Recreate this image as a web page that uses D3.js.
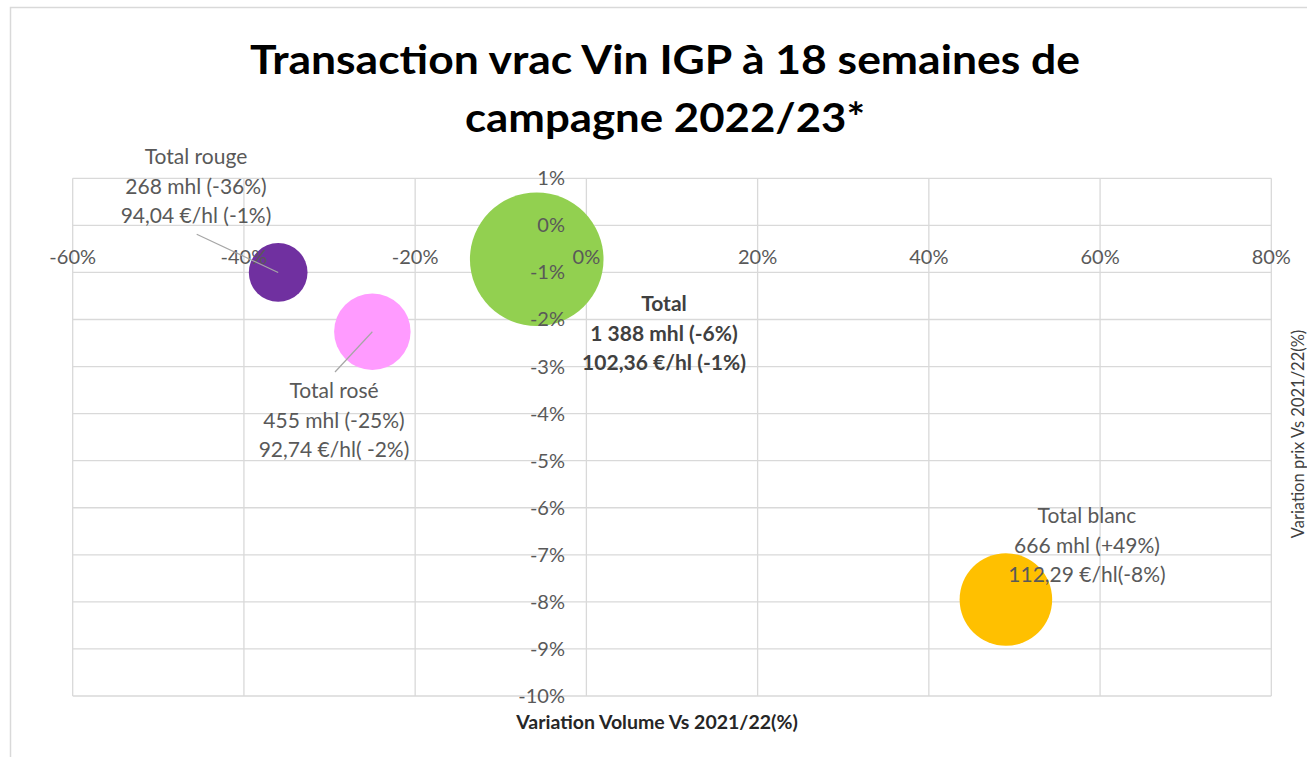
<!DOCTYPE html>
<html><head><meta charset="utf-8">
<script src="https://cdn.jsdelivr.net/npm/d3@7"></script>
<style>body{margin:0;background:#fff;} svg{display:block;}</style>
</head><body>
<svg id="chart" width="1307" height="757"></svg>
<script>
// ---- data ----
const series = ["Total rouge", "Total rosé", "Total", "Total blanc"];
const volumeVar = [-36, -25, -5.8, 49];          // x: variation volume (%)
const priceVar = [-1.0, -2.26, -0.72, -7.95];     // y: variation prix (%)
const volumes = [268, 455, 1388, 666];            // bubble size (mhl)
const colors = ["#7030A0", "#FF9BFF", "#92D050", "#FFC000"];
const labelLines = [
  ["Total rouge", "268 mhl (-36%)", "94,04 €/hl (-1%)"],
  ["Total rosé", "455 mhl (-25%)", "92,74 €/hl( -2%)"],
  ["Total", "1 388 mhl (-6%)", "102,36 €/hl (-1%)"],
  ["Total blanc", "666 mhl (+49%)", "112,29 €/hl(-8%)"]
];
const xTicks = [-60, -40, -20, 0, 20, 40, 60, 80];
const yTicks = [1, 0, -1, -2, -3, -4, -5, -6, -7, -8, -9, -10];
const titleLines = ["Transaction vrac Vin IGP à 18 semaines de", "campagne 2022/23*"];
const xTitle = "Variation Volume Vs 2021/22(%)";
const yTitle = "Variation prix Vs 2021/22(%)";

// ---- layout ----
const svg = d3.select("#chart");
const FONT = "Lato, 'Open Sans', sans-serif";
const x = d3.scaleLinear().domain([-60, 80]).range([72.7, 1271.3]);
const y = d3.scaleLinear().domain([-10, 1]).range([696, 178.3]);
const r = d3.scaleSqrt().domain([0, 1388]).range([0, 66.8]);

// outer border
svg.append("rect").attr("x", 10.5).attr("y", 7.5).attr("width", 1320).attr("height", 770)
  .attr("fill", "none").attr("stroke", "#D9D9D9").attr("stroke-width", 1.5);

// title
svg.append("g").selectAll("text").data(titleLines).join("text")
  .attr("x", 665).attr("y", (d, i) => 74 + i * 58)
  .attr("text-anchor", "middle").attr("font-family", FONT).attr("font-weight", "bold")
  .attr("font-size", 40).attr("fill", "#000")
  .attr("textLength", (d, i) => i === 0 ? 830 : 400).attr("lengthAdjust", "spacingAndGlyphs")
  .text(d => d);

// gridlines
const grid = svg.append("g").attr("stroke", "#D9D9D9").attr("stroke-width", 1.3);
grid.selectAll("line.v").data(xTicks).join("line").attr("class", "v")
  .attr("x1", d => x(d)).attr("x2", d => x(d)).attr("y1", y(1)).attr("y2", y(-10));
grid.selectAll("line.h").data(yTicks).join("line").attr("class", "h")
  .attr("y1", d => y(d)).attr("y2", d => y(d)).attr("x1", x(-60)).attr("x2", x(80));

const idx = d3.range(series.length);

// bubbles: draw largest first
const order = idx.slice().sort((a, b) => volumes[b] - volumes[a]);
svg.append("g").selectAll("circle").data(order).join("circle")
  .attr("cx", i => x(volumeVar[i])).attr("cy", i => y(priceVar[i])).attr("r", i => r(volumes[i]))
  .attr("fill", i => colors[i]);

// axis tick labels
const fmt = d => d + "%";
svg.append("g").selectAll("text").data(xTicks).join("text")
  .attr("x", d => x(d)).attr("y", 264).attr("text-anchor", "middle")
  .attr("font-family", FONT).attr("font-size", 20).attr("fill", "#595959").text(fmt);
svg.append("g").selectAll("text").data(yTicks).join("text")
  .attr("x", 565).attr("y", d => y(d) + 7).attr("text-anchor", "end")
  .attr("font-family", FONT).attr("font-size", 20).attr("fill", "#595959").text(fmt);

// axis titles
svg.append("text").attr("x", 657).attr("y", 729).attr("text-anchor", "middle")
  .attr("font-family", FONT).attr("font-weight", "bold").attr("font-size", 19.5).attr("fill", "#262626")
  .text(xTitle);
svg.append("text").attr("transform", "translate(1304,434) rotate(-90)").attr("text-anchor", "middle")
  .attr("font-family", FONT).attr("font-size", 16.5).attr("fill", "#404040")
  .text(yTitle);

// data label positions (label anchor centre x, first baseline y)
const labelPos = [[196, 164], [334, 398], [664, 311], [1087, 523]];
const leaders = [[196.7, 234.3], [335, 372], null, null];

svg.append("g").attr("stroke", "#A6A6A6").attr("stroke-width", 1.2).selectAll("line")
  .data(idx.filter(i => leaders[i])).join("line")
  .attr("x1", i => leaders[i][0]).attr("y1", i => leaders[i][1])
  .attr("x2", i => x(volumeVar[i])).attr("y2", i => y(priceVar[i]));

idx.forEach(i => {
  svg.append("g").selectAll("text").data(labelLines[i]).join("text")
    .attr("x", labelPos[i][0]).attr("y", (d, k) => labelPos[i][1] + k * 29.5)
    .attr("text-anchor", "middle").attr("font-family", FONT).attr("font-size", 21)
    .attr("font-weight", series[i] === "Total" ? "bold" : "normal")
    .attr("fill", series[i] === "Total" ? "#404040" : "#595959")
    .text(d => d);
});
</script>
</body></html>
